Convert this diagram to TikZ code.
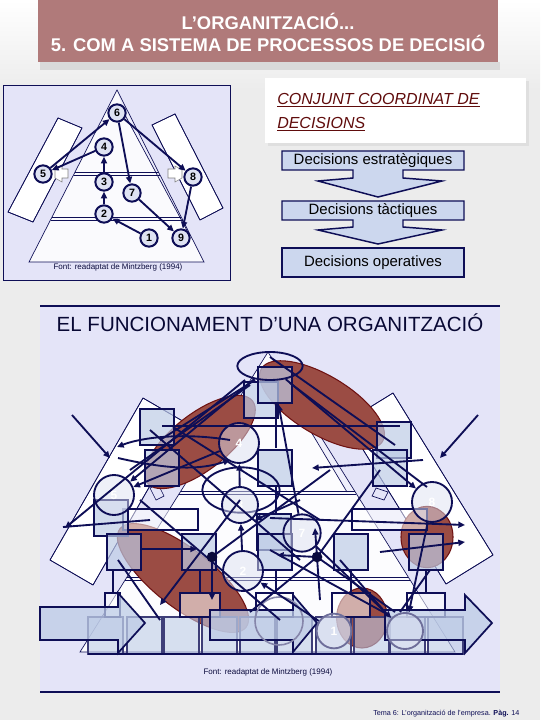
\documentclass[tikz,border=0pt]{standalone}
\usepackage{fontspec}
\setmainfont{Liberation Sans}
\usetikzlibrary{arrows.meta,calc,shapes.geometric}
\definecolor{navy}{RGB}{14,14,86}
\definecolor{titlec}{RGB}{176,122,122}
\definecolor{lav}{RGB}{228,228,248}
\definecolor{cfill}{RGB}{222,226,242}
\definecolor{decfill}{RGB}{204,215,238}
\definecolor{sqfill}{RGB}{190,204,230}
\definecolor{redf}{RGB}{155,76,68}
\definecolor{redd}{RGB}{110,18,18}
\definecolor{dred}{RGB}{96,12,12}
\definecolor{bgc}{RGB}{236,236,236}
\begin{document}
\begin{tikzpicture}[x=0.75pt,y=-0.75pt,
  nv/.style={draw=navy,line width=1.4pt},
  arr/.style={draw=navy,line width=1.4pt,-{Triangle[length=5pt,width=4.5pt]}},
  tl/.style={draw=navy,line width=0.5pt},
  ucirc/.style={circle,draw=navy,line width=1.5pt,fill=cfill,minimum size=13pt,inner sep=0pt,font=\bfseries\fontsize{8}{8}\selectfont,text=black},
  decbox/.style={draw=navy,line width=1.1pt,fill=decfill},
  dectext/.style={font=\fontsize{11.2}{12}\selectfont,text=black},
  sqn/.style={draw=navy,line width=1.4pt,fill=sqfill,fill opacity=0.7,minimum width=25pt,minimum height=27.5pt,inner sep=0pt},
  wsq/.style={draw=navy,line width=1.4pt,fill=white,fill opacity=0.55},
  rowbox/.style={draw=navy!80,line width=1.2pt,fill=sqfill,fill opacity=0.6},
  barrow/.style={draw=navy,line width=1.3pt,fill=sqfill,fill opacity=0.75},
  bcirc/.style={circle,draw=navy,line width=1.4pt,fill=cfill,fill opacity=0.5,text opacity=1,inner sep=0pt,text=white,font=\bfseries\fontsize{9}{9}\selectfont},
  redell/.style={fill=redf,draw=redd,line width=0.8pt},
  capt/.style={font=\fontsize{6}{7}\selectfont,text=navy!70!black,inner sep=0pt},
]
\useasboundingbox (0,0) rectangle (540,720);
% background
\fill[bgc] (0,0) rectangle (540,720);
\shade[top color=white,bottom color=bgc] (0,0) rectangle (540,90);
% title
\fill[gray!30] (40,62) rectangle (500,70);
\fill[titlec] (38,0) rectangle (498,62);
\node[text=white,font=\bfseries\fontsize{13.8}{16.5}\selectfont,align=center] (title) at (268,32) {L'ORGANITZACIÓ...\\5. COM A SISTEMA DE PROCESSOS DE DECISIÓ};

% ================= upper left figure =================
\draw[fill=lav,draw=navy,line width=0.6pt] (3,85) rectangle (230,280);
% side rectangles
\draw[tl,fill=white] (58,118) -- (82,128) -- (33,222) -- (8,212) -- cycle;
\draw[tl,fill=white] (152,125) -- (175,114) -- (223,208) -- (200,220) -- cycle;
% pyramid
\coordinate (pa) at (117,90);
\coordinate (pl) at (29,262);
\coordinate (pr) at (204,262);
\fill[white,opacity=0.85] (pa) -- (pl) -- (pr) -- cycle;
\fill[lav!70] (117,90) -- (158,172) -- (181,217) -- (190,236) -- (125,115) -- cycle;
\draw[tl] (pa) -- (pl) -- (pr) -- cycle;
\draw[tl] (125,115) -- (190,236);
\draw[tl] (58,118) -- (82,128) -- (33,222) -- (8,212) -- cycle;
\draw[tl] (152,125) -- (175,114) -- (223,208) -- (200,220) -- cycle;
\draw[tl] ($(pa)!0.477!(pl)$) -- ($(pa)!0.477!(pr)$);
\draw[tl] ($(pa)!0.494!(pl)$) -- ($(pa)!0.494!(pr)$);
\draw[tl] ($(pa)!0.738!(pl)$) -- ($(pa)!0.738!(pr)$);
\draw[tl] ($(pa)!0.755!(pl)$) -- ($(pa)!0.755!(pr)$);
% puzzle arrows
\draw[gray,fill=white,line width=0.4pt] (55,170) -- (62,166) -- (62,169) -- (68,169) -- (68,178) -- (62,178) -- (62,182) -- (55,178) -- cycle;
\draw[gray,fill=white,line width=0.4pt] (182,170) -- (175,166) -- (175,169) -- (168,169) -- (168,178) -- (175,178) -- (175,182) -- (182,178) -- cycle;
% circles
\node[ucirc] (u6) at (117,113) {6};
\node[ucirc] (u4) at (104,147) {4};
\node[ucirc] (u5) at (43,174) {5};
\node[ucirc] (u3) at (104,182) {3};
\node[ucirc] (u7) at (132,193) {7};
\node[ucirc] (u8) at (193,177) {8};
\node[ucirc] (u2) at (104,214) {2};
\node[ucirc] (u1) at (149,238) {1};
\node[ucirc] (u9) at (181,238) {9};
\draw[arr] (u5) -- (u6);
\draw[arr] (u4) -- (u5);
\draw[arr] (u3) -- (u4);
\draw[arr] (u2) -- (u3);
\draw[arr] (u1) -- (u2);
\draw[arr] (u6) -- (u7);
\draw[arr] (u6) -- (u8);
\draw[arr] (u7) -- (u9);
\draw[arr] (u8) -- (u9);
\node[capt] (ucap) at (118,267) {Font: readaptat de Mintzberg (1994)};

% ================= upper right =================
\fill[gray!25] (268,81) rectangle (529,146);
\fill[white] (265,78) rectangle (526,143);
\node[anchor=west,text=dred,font=\itshape\fontsize{12}{14}\selectfont,inner sep=0pt] (cc1) at (277,100) {\underline{CONJUNT COORDINAT DE}};
\node[anchor=west,text=dred,font=\itshape\fontsize{12}{14}\selectfont,inner sep=0pt] (cc2) at (277,124) {\underline{DECISIONS}};
\path[decbox] (282,151) -- (464,151) -- (464,170) -- (403,170) -- (403,178) -- (442,181) -- (378,197) -- (318,181) -- (353,178) -- (353,170) -- (282,170) -- cycle;
\path[decbox] (282,201) -- (464,201) -- (464,220) -- (403,220) -- (403,227) -- (442,230) -- (378,244) -- (318,230) -- (353,227) -- (353,220) -- (282,220) -- cycle;
\path[decbox] (282,248) rectangle (464,277);
\node[dectext] (d1) at (373,161) {Decisions estratègiques};
\node[dectext] (d2) at (373,211) {Decisions tàctiques};
\node[dectext] (d3) at (373,263) {Decisions operatives};

% ================= lower panel =================
\fill[lav] (40,306) rectangle (500,692);
\draw[navy,line width=0.8pt] (40,306) -- (500,306);
\draw[navy,line width=0.8pt] (40,692) -- (500,692);
\node[font=\fontsize{15.4}{17}\selectfont,text=navy!60!black] (btitle) at (270,323) {EL FUNCIONAMENT D’UNA ORGANITZACIÓ};
% side rectangles
\draw[tl,fill=white] (143,398) -- (186,423) -- (93,585) -- (50,560) -- cycle;
\draw[tl,fill=white] (393,393) -- (493,555) -- (446,584) -- (346,422) -- cycle;
% pyramid
\coordinate (ba) at (268,352);
\coordinate (bl) at (80,652);
\coordinate (br) at (455,652);
\fill[white,opacity=0.9] (ba) -- (bl) -- (br) -- cycle;
\fill[lav!60] (292,400) -- (347,492) -- (356,492) -- (268,352) -- cycle;
\draw[tl] (ba) -- (bl) -- (br) -- cycle;
\draw[tl] (143,398) -- (186,423) -- (93,585) -- (50,560) -- cycle;
\draw[tl] (393,393) -- (493,555) -- (446,584) -- (346,422) -- cycle;
\draw[tl] (292,400) -- (347,492);
\draw[tl] ($(ba)!0.463!(bl)$) -- ($(ba)!0.463!(br)$);
\draw[tl] ($(ba)!0.473!(bl)$) -- ($(ba)!0.473!(br)$);
\draw[tl] ($(ba)!0.75!(bl)$) -- ($(ba)!0.75!(br)$);
\draw[tl] ($(ba)!0.76!(bl)$) -- ($(ba)!0.76!(br)$);
\draw[tl] (150,488) -- (158,484) -- (164,496) -- (156,500) -- cycle;
\draw[tl] (376,488) -- (388,492) -- (384,500) -- (372,496) -- cycle;
% red ellipses
\path[redell,rotate around={38:(200,442)}] (200,442) ellipse [x radius=50pt,y radius=21pt];
\path[redell,rotate around={-31:(322,405)}] (322,405) ellipse [x radius=53pt,y radius=22pt];
\path[redell,rotate around={-38:(183,578)}] (183,578) ellipse [x radius=60pt,y radius=22pt];
\path[redell] (427,537) ellipse [x radius=19.5pt,y radius=23pt];
\path[redell] (362,618) ellipse [x radius=19pt,y radius=22.5pt];

% row boxes
\foreach \xx in {88,127,164,202,240,277,316,354,390,428}
  \path[rowbox] (\xx,617) rectangle (\xx+35,654);
% small connector boxes
\path[wsq] (105,593) rectangle (120,617);
\path[wsq] (180,593) rectangle (220,617);
\path[wsq] (256,593) rectangle (293,617);
\path[wsq] (332,593) rectangle (370,617);
\path[wsq] (407,593) rectangle (445,617);
% wide rectangles
\path[wsq] (123,509) rectangle (198,530);
\path[wsq] (352,509) rectangle (427,530);
% block arrows
\path[barrow] (40,607) -- (118,607) -- (118,593) -- (145,623) -- (118,653) -- (118,640) -- (40,640) -- cycle;
\path[barrow] (210,610) -- (293,610) -- (293,595) -- (317,623) -- (293,652) -- (293,640) -- (210,640) -- cycle;
\path[barrow] (385,610) -- (465,610) -- (465,595) -- (492,623) -- (465,653) -- (465,640) -- (385,640) -- cycle;
\draw[navy,line width=2pt] (88,654) -- (463,654);

% squares
\node[sqn] (q2) at (261,400) {};
\node[sqn] (q1) at (275,385) {};
\node[sqn] (q3) at (157,427) {};
\node[sqn] (q5) at (162,468) {};
\node[sqn] (q6) at (275,468) {};
\node[sqn] (q7) at (394,440) {};
\node[sqn] (q8) at (390,468) {};
\node[sqn] (q9) at (111,518) {};
\node[sqn] (q10) at (124,552) {};
\node[sqn] (q11) at (199,552) {};
\node[sqn] (q12) at (274,532) {};
\node[sqn] (q13) at (275,552) {};
\node[sqn] (q14) at (351,552) {};
\node[sqn] (q15) at (426,552) {};

% circles
\node[ellipse,draw=navy,line width=1.4pt,minimum width=49pt,minimum height=21pt,inner sep=0pt] (b6) at (270,366) {};
\draw[navy,line width=1.4pt] (241,490) ellipse [x radius=29pt,y radius=17pt];
\node[bcirc,minimum size=30pt] (b4) at (239,443) {4};
\node[bcirc,minimum size=27pt] (b3) at (240,505) {3};
\node[bcirc,minimum size=30pt] (b5) at (114,495) {5};
\node[bcirc,minimum size=30pt] (b8) at (432,502) {8};
\node[bcirc,minimum size=30pt] (b2) at (243,571) {2};
\node[bcirc,minimum size=28pt] (b7) at (302,533) {7};
\node[bcirc,minimum size=26pt,draw=navy!60] (b1) at (334,631) {1};
\node[bcirc,minimum size=27pt,draw=navy!60] (b9) at (405,631) {};
\node[circle,draw=navy!50,line width=1.2pt,minimum size=36pt] (bx) at (279,621) {};

% connectors
\coordinate (inL1) at (72,415); \coordinate (inL2) at (110,458);
\coordinate (inR1) at (478,415); \coordinate (inR2) at (440,458);
\coordinate (fL) at (65,528);
\coordinate (fR) at (465,525);
\coordinate (d1c) at (212,557);
\coordinate (d2c) at (317,557);
\draw[arr] (inL1) -- (inL2);
\draw[arr] (inR1) -- (inR2);
\draw[arr] (b6) -- (b5);
\draw[arr] (b6) -- (b8);
\draw[arr] (245,380) -- (fL);
\draw[arr] (b7) -- (q1);
\draw[arr] (b4) -- (b5);
\draw[arr] (b3) -- (b4);
\draw[arr] (b2) -- (b3);
\draw[arr] (b1) -- (b2);
\draw[arr] (b7) -- (b9);
\draw[arr] (b8) -- (b9);
\draw[nv] (162,426) -- (400,426);
\draw[arr] (423,460) -- (312,468);
\draw[arr] (230,440) .. controls (180,432) and (140,438) .. (117,447);
\draw[arr] (118,458) .. controls (170,470) and (200,470) .. (230,460);
\draw[nv] (173,427) -- (320,520);
\draw[nv] (150,430) -- (300,560);
\draw[nv] (270,357) -- (395,445);
\draw[nv] (290,383) -- (427,487);
\draw[nv] (250,385) -- (130,470);
\draw[nv] (255,380) -- (160,440);
\draw[arr] (270,518) -- (fR);
\draw[nv] (63,527) -- (150,520);
\draw[arr] (140,549) -- (197,549);
\draw[nv] (140,500) -- (280,620);
\draw[arr] (240,500) -- (160,605);
\draw[arr] (d1c) -- (212,600);
\draw[nv] (d1c) -- (330,470);
\draw[arr] (d2c) -- (277,555);
\draw[nv] (d2c) -- (320,600);
\draw[arr] (d2c) -- (315,528);
\draw[nv] (d2c) -- (250,612);
\draw[nv] (d2c) -- (395,612);
\draw[nv] (d2c) -- (380,470);
\draw[nv] (270,550) -- (385,613);
\draw[nv] (340,560) -- (385,612);
\draw[arr] (380,552) -- (465,542);
\draw[nv] (113,570) -- (113,593);
\draw[nv] (200,570) -- (200,593);
\draw[nv] (276,570) -- (276,593);
\draw[nv] (351,570) -- (351,593);
\draw[nv] (426,570) -- (426,593);
\draw[nv] (276,403) -- (276,448);
\draw[nv] (276,487) -- (276,515);
\draw[nv] (118,560) -- (160,620);
\draw[arr] (300,500) -- (255,520);
\draw[nv] (430,570) -- (400,612);
\fill[navy!70!black] (d1c) circle (4pt);
\fill[navy!70!black] (d2c) circle (4pt);

\node[capt] (bcap) at (268,672) {Font: readaptat de Mintzberg (1994)};
\node[font=\fontsize{5.4}{6}\selectfont,text=navy,anchor=west,inner sep=0pt] (foot) at (373,714) {Tema 6: L'organització de l'empresa. \textbf{Pàg.} 14};
\end{tikzpicture}
\end{document}
